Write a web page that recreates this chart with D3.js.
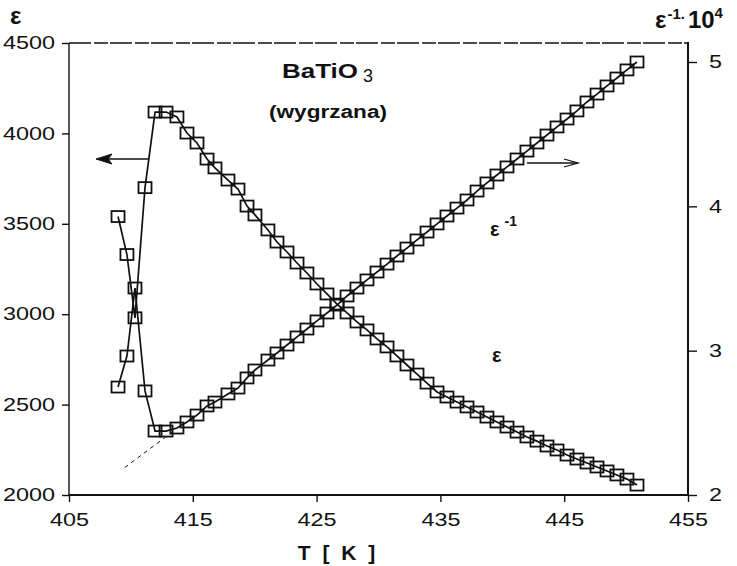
<!DOCTYPE html>
<html>
<head>
<meta charset="utf-8">
<script src="https://cdn.jsdelivr.net/npm/d3@7/dist/d3.min.js"></script>
<style>
  html, body { margin: 0; padding: 0; background: #fff; }
  svg { display: block; }
  text { font-family: "Liberation Sans", Arial, sans-serif; fill: #111; }
</style>
</head>
<body>
<svg id="chart" width="737" height="566"></svg>
<script>
// Temperature of each measurement point [K]
const temperature = [
  408.96, 409.68, 410.33, 411.14, 411.95, 412.84, 413.72, 414.53, 415.34, 416.15,
  416.79, 417.84, 418.65, 419.38, 420.02, 421.07, 421.80, 422.61, 423.42, 424.22,
  425.03, 425.84, 426.65, 427.46, 428.26, 429.07, 429.88, 430.69, 431.49, 432.30,
  433.11, 433.92, 434.73, 435.53, 436.34, 437.15, 437.96, 438.76, 439.57, 440.38,
  441.19, 441.99, 442.80, 443.61, 444.42, 445.23, 446.03, 446.84, 447.65, 448.46,
  449.26, 450.07, 450.88
];

// Permittivity ε (left axis)
const epsilon = [
  3540, 3330, 2980, 3700, 4118, 4118, 4091, 4002, 3947, 3858,
  3809, 3742, 3692, 3598, 3549, 3466, 3399, 3344, 3283, 3228,
  3167, 3112, 3056, 3007, 2957, 2913, 2863, 2819, 2769, 2719,
  2669, 2619, 2570, 2542, 2514, 2487, 2459, 2431, 2404, 2376,
  2348, 2321, 2298, 2271, 2249, 2221, 2199, 2177, 2155, 2133,
  2111, 2088, 2055
];

// Inverse permittivity ε^-1 · 10^4 (right axis)
const inverseEpsilon = [
  2.748, 2.963, 3.434, 2.721, 2.443, 2.443, 2.464, 2.506, 2.554, 2.617,
  2.644, 2.700, 2.741, 2.811, 2.866, 2.935, 2.984, 3.039, 3.095, 3.150,
  3.206, 3.261, 3.316, 3.379, 3.434, 3.490, 3.545, 3.600, 3.656, 3.711,
  3.767, 3.822, 3.878, 3.933, 3.988, 4.044, 4.106, 4.162, 4.217, 4.273,
  4.328, 4.383, 4.439, 4.494, 4.550, 4.605, 4.661, 4.723, 4.778, 4.834,
  4.889, 4.945, 5.000
];

// Curie–Weiss extrapolation of ε^-1 below the transition (dashed)
const fitT = [409.5, 413.4];
const fitInverse = [2.19, 2.44];

// Axis ticks
const xTicks = [405, 415, 425, 435, 445, 455];
const leftTicks = [2000, 2500, 3000, 3500, 4000, 4500];
const rightTicks = [2, 3, 4, 5];

const svg = d3.select("#chart");
svg.append("rect").attr("width", 737).attr("height", 566).attr("fill", "#fff");

const x = d3.scaleLinear().domain([405, 455]).range([69, 688]);
const yL = d3.scaleLinear().domain([2000, 4500]).range([495, 43]);
const yR = d3.scaleLinear().domain([2, 5]).range([495, 62]);

const digitW = 13;
function styleTicks(g) {
  g.select(".domain").remove();
  g.selectAll(".tick line").attr("stroke", "#111").attr("stroke-width", 1.4);
  g.selectAll(".tick text")
    .attr("font-size", 18)
    .attr("fill", "#1a1a1a")
    .attr("font-family", "Liberation Sans, Arial, sans-serif")
    .attr("lengthAdjust", "spacingAndGlyphs")
    .attr("textLength", function () { return this.textContent.length * digitW; });
}

svg.append("g")
  .attr("transform", "translate(0,495)")
  .call(d3.axisBottom(x).tickValues(xTicks).tickSize(7).tickPadding(11).tickFormat(d3.format("d")))
  .call(styleTicks);

svg.append("g")
  .attr("transform", "translate(69,0)")
  .call(d3.axisLeft(yL).tickValues(leftTicks).tickSize(7).tickPadding(7).tickFormat(d3.format("d")))
  .call(styleTicks);

svg.append("g")
  .attr("transform", "translate(688,0)")
  .call(d3.axisRight(yR).tickValues(rightTicks).tickSize(9).tickPadding(12).tickFormat(d3.format("d")))
  .call(styleTicks);

// Frame
const frame = svg.append("g").attr("stroke", "#111").attr("fill", "none");
frame.append("line").attr("x1", 69).attr("x2", 69).attr("y1", 43).attr("y2", 495).attr("stroke-width", 1.4);
frame.append("line").attr("x1", 69).attr("x2", 689).attr("y1", 495).attr("y2", 495).attr("stroke-width", 2);
frame.append("line").attr("x1", 688).attr("x2", 688).attr("y1", 42).attr("y2", 496).attr("stroke-width", 2);
frame.append("line").attr("x1", 69).attr("x2", 688).attr("y1", 43).attr("y2", 43)
  .attr("stroke-width", 1.4).attr("stroke-dasharray", "22 3 14 2");

// Series
const idx = d3.range(temperature.length);
const lineL = d3.line().x(i => x(temperature[i])).y(i => yL(epsilon[i]));
const lineR = d3.line().x(i => x(temperature[i])).y(i => yR(inverseEpsilon[i]));

svg.append("path").attr("d", lineL(idx)).attr("fill", "none").attr("stroke", "#111").attr("stroke-width", 1.7);
svg.append("path").attr("d", lineR(idx)).attr("fill", "none").attr("stroke", "#111").attr("stroke-width", 1.7);

svg.append("path")
  .attr("d", d3.line().x(i => x(fitT[i])).y(i => yR(fitInverse[i]))([0, 1]))
  .attr("fill", "none").attr("stroke", "#111").attr("stroke-width", 1)
  .attr("stroke-dasharray", "4 4");

const bw = 13, bh = 11;
function boxes(yScale, values) {
  svg.append("g").selectAll("rect").data(idx).join("rect")
    .attr("x", i => x(temperature[i]) - bw / 2)
    .attr("y", i => yScale(values[i]) - bh / 2)
    .attr("width", bw).attr("height", bh)
    .attr("fill", "none").attr("stroke", "#111").attr("stroke-width", 1.8);
}
boxes(yL, epsilon);
boxes(yR, inverseEpsilon);

// Arrows pointing to the matching axis
const arrowL = svg.append("g").attr("stroke", "#111").attr("fill", "#111");
arrowL.append("line").attr("x1", 148).attr("x2", 100).attr("y1", 159).attr("y2", 159).attr("stroke-width", 1.5);
arrowL.append("path").attr("d", "M96,159 L112,154 L108,159 L112,164 Z").attr("stroke-width", 1);

const arrowR = svg.append("g").attr("stroke", "#111").attr("fill", "none").attr("stroke-width", 1.3);
arrowR.append("line").attr("x1", 527).attr("x2", 578).attr("y1", 163).attr("y2", 163);
arrowR.append("path").attr("d", "M564,159 L578,163 L564,167");

// Texts
svg.append("text").attr("x", 10).attr("y", 24).attr("font-size", 24).attr("font-weight", "bold").text("ε");

const rt = svg.append("text").attr("x", 655).attr("y", 28).attr("font-size", 24).attr("font-weight", "bold");
rt.append("tspan").text("ε");
rt.append("tspan").attr("font-size", 15).attr("dy", -9).attr("dx", 1).text("-1.");
rt.append("tspan").attr("dy", 9).attr("dx", 3).text("10");
rt.append("tspan").attr("font-size", 15).attr("dy", -10).text("4");

const title = svg.append("text").attr("x", 282).attr("y", 78).attr("font-size", 20).attr("font-weight", "bold");
title.append("tspan").attr("textLength", 76).attr("lengthAdjust", "spacingAndGlyphs").text("BaTiO");
title.append("tspan").attr("x", 363).attr("dy", 4).attr("font-weight", "normal").attr("font-size", 18).text("3");

svg.append("text").attr("x", 269).attr("y", 118).attr("font-size", 18).attr("font-weight", "bold")
  .attr("textLength", 118).attr("lengthAdjust", "spacingAndGlyphs").text("(wygrzana)");

const invLabel = svg.append("text").attr("x", 490).attr("y", 236).attr("font-size", 20).attr("font-weight", "bold");
invLabel.append("tspan").text("ε");
invLabel.append("tspan").attr("dx", 5).attr("dy", -10).attr("font-size", 14).text("-1");

svg.append("text").attr("x", 492).attr("y", 362).attr("font-size", 20).attr("font-weight", "bold").text("ε");

svg.append("text").attr("x", 338).attr("y", 560).attr("text-anchor", "middle")
  .attr("font-size", 21).attr("font-weight", "bold").attr("letter-spacing", 3).text("T [ K ]");
</script>
</body>
</html>
